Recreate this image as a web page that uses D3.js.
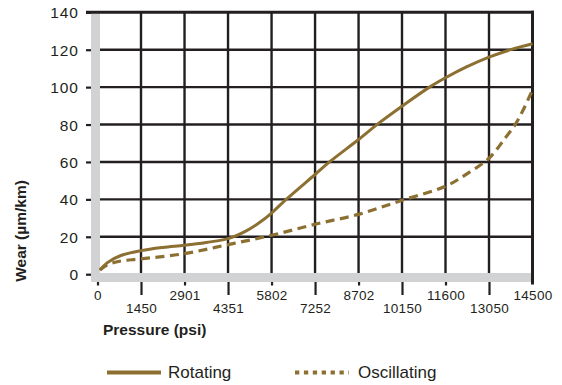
<!DOCTYPE html>
<html>
<head>
<meta charset="utf-8">
<script src="https://cdn.jsdelivr.net/npm/d3@7"></script>
<style>
  html, body { margin: 0; padding: 0; background: #ffffff; }
  svg { display: block; font-family: "Liberation Sans", Arial, Helvetica, sans-serif; }
</style>
</head>
<body>
<div id="chart"></div>
<script>
// ---- Data ----
const rotatingPsi  = [80, 330, 780, 1450, 2176, 2901, 3626, 4351, 4960, 5400, 5802, 6290, 7252, 7733, 8702, 9400, 10150, 11067, 11600, 12300, 13050, 13800, 14500];
const rotatingWear = [2.2, 6.2, 10, 12.6, 14.3, 15.5, 17, 19, 23.2, 27.6, 32.7, 40, 53.3, 60, 72, 81, 89.8, 100, 105, 110.8, 116, 120.2, 123.2];

const oscillatingPsi  = [80, 330, 700, 1450, 2901, 4351, 5802, 7252, 8702, 10150, 11600, 12300, 13050, 13600, 14000, 14500];
const oscillatingWear = [2.2, 5, 6.8, 8.2, 11, 15.8, 20.8, 26.7, 32, 39.5, 47, 53.5, 62, 73, 82, 98.5];

const xTicksRow1 = [0, 2901, 5802, 8702, 11600, 14500];
const xTicksRow2 = [1450, 4351, 7252, 10150, 13050];
const xGrid = [1450, 2901, 4351, 5802, 7252, 8702, 10150, 11600, 13050];
const yTicks = [0, 20, 40, 60, 80, 100, 120, 140];
const yGrid = [20, 40, 60, 80, 100, 120];

const seriesNames = ["Rotating", "Oscillating"];

// ---- Setup ----
const W = 562, H = 385;
const ink = "#231f20";
const lineColor = "#8c7032";
const barColor = "#d1d2d4";

const svg = d3.select("#chart").append("svg").attr("width", W).attr("height", H);

const x = d3.scaleLinear().domain([0, 14500]).range([97.5, 532.5]);
const y = d3.scaleLinear().domain([0, 140]).range([274.2, 12.3]);

const barTop = 273, barBottom = 282, barLeft = 91, barRight = 100;

// Vertical gridlines
svg.append("g").selectAll("line").data(xGrid).join("line")
  .attr("x1", d => x(d)).attr("x2", d => x(d))
  .attr("y1", y(140)).attr("y2", barTop)
  .attr("stroke", ink).attr("stroke-width", 2.4);

// Horizontal gridlines
svg.append("g").selectAll("line").data(yGrid).join("line")
  .attr("x1", barLeft).attr("x2", x(14500))
  .attr("y1", d => y(d)).attr("y2", d => y(d))
  .attr("stroke", ink).attr("stroke-width", 2.4);

// Gray axis bands
svg.append("rect").attr("x", barLeft).attr("y", y(140)).attr("width", barRight - barLeft)
  .attr("height", barBottom - y(140)).attr("fill", barColor);
svg.append("rect").attr("x", barLeft).attr("y", barTop).attr("width", x(14500) - barLeft)
  .attr("height", barBottom - barTop).attr("fill", barColor);

// Top border and right border
svg.append("line").attr("x1", 86).attr("x2", x(14500) + 1.5)
  .attr("y1", y(140)).attr("y2", y(140)).attr("stroke", ink).attr("stroke-width", 3);
svg.append("line").attr("x1", x(14500)).attr("x2", x(14500))
  .attr("y1", y(140) - 1.5).attr("y2", 284.5).attr("stroke", ink).attr("stroke-width", 3);

// Y axis
const yAxis = svg.append("g").attr("transform", `translate(${barLeft},0)`)
  .call(d3.axisLeft(y).tickValues(yTicks).tickSize(5).tickPadding(7).tickFormat(d3.format("d")));
yAxis.select(".domain").remove();
yAxis.selectAll(".tick line").attr("stroke", ink).attr("stroke-width", 2.2);
yAxis.selectAll(".tick text").attr("fill", ink).style("font-size", "15.5px")
  .style("letter-spacing", "1px").attr("dy", "0.36em");

// X axis: row 1 (short ticks) and row 2 (long ticks)
const xAxis1 = svg.append("g").attr("transform", `translate(0,${barBottom})`)
  .call(d3.axisBottom(x).tickValues(xTicksRow1).tickSize(3.5).tickPadding(5.4).tickFormat(d => String(d)));
const xAxis2 = svg.append("g").attr("transform", `translate(0,${barBottom})`)
  .call(d3.axisBottom(x).tickValues(xTicksRow2).tickSize(13).tickPadding(8.4).tickFormat(d => String(d)));
[xAxis1, xAxis2].forEach(a => {
  a.select(".domain").remove();
  a.selectAll(".tick line").attr("stroke", ink).attr("stroke-width", 2.2);
  a.selectAll(".tick text").attr("fill", ink).style("font-size", "13.5px").style("letter-spacing", "0.3px");
});
xAxis1.selectAll(".tick").filter(d => d === 14500).select("line").remove();

// Lines
const line = d3.line().x(d => x(d[0])).y(d => y(d[1])).curve(d3.curveCatmullRom.alpha(0.5));
const rotData = rotatingPsi.map((p, i) => [p, rotatingWear[i]]);
const oscData = oscillatingPsi.map((p, i) => [p, oscillatingWear[i]]);

svg.append("path").datum(oscData).attr("d", line)
  .attr("fill", "none").attr("stroke", lineColor).attr("stroke-width", 3.2)
  .attr("stroke-dasharray", "9,5.5");
svg.append("path").datum(rotData).attr("d", line)
  .attr("fill", "none").attr("stroke", lineColor).attr("stroke-width", 3);

// Axis titles
svg.append("text").attr("x", 103).attr("y", 335).attr("fill", ink)
  .style("font-size", "15.5px").style("font-weight", "bold").text("Pressure (psi)");
svg.append("text").attr("transform", "translate(26,231) rotate(-90)")
  .attr("text-anchor", "middle").attr("fill", ink)
  .style("font-size", "15.5px").style("font-weight", "bold").text("Wear (µm/km)");

// Legend
const legend = svg.append("g");
legend.append("line").attr("x1", 107).attr("x2", 161).attr("y1", 372.5).attr("y2", 372.5)
  .attr("stroke", lineColor).attr("stroke-width", 4.2);
legend.append("text").attr("x", 168).attr("y", 378.3).attr("fill", ink)
  .style("font-size", "17px").text(seriesNames[0]);
legend.append("line").attr("x1", 295).attr("x2", 349).attr("y1", 372.5).attr("y2", 372.5)
  .attr("stroke", lineColor).attr("stroke-width", 4.2).attr("stroke-dasharray", "4.3,4.6");
legend.append("text").attr("x", 358).attr("y", 378.3).attr("fill", ink)
  .style("font-size", "17px").text(seriesNames[1]);
</script>
</body>
</html>
